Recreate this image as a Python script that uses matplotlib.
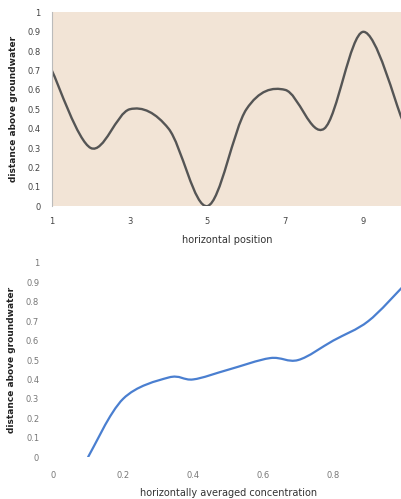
import numpy as np
import matplotlib
matplotlib.use("Agg")
import matplotlib.pyplot as plt
from matplotlib.path import Path
from matplotlib.patches import PathPatch

# top chart data
pos = [1, 2, 3, 4, 5, 6, 7, 8, 9, 10]
dist_top = [0.7, 0.3, 0.5, 0.4, 0.0, 0.5, 0.6, 0.4, 0.9, 0.45]

# bottom chart data
conc = [0.1, 0.2, 0.33, 0.4, 0.5, 0.62, 0.7, 0.8, 0.9, 1.0]
dist_bot = [0.0, 0.3, 0.41, 0.4, 0.45, 0.51, 0.5, 0.6, 0.7, 0.88]

top_xticks = [1, 3, 5, 7, 9]
bot_xticks = [0, 0.2, 0.4, 0.6, 0.8]
yticks = [0, 0.1, 0.2, 0.3, 0.4, 0.5, 0.6, 0.7, 0.8, 0.9, 1]


def smooth_path(x, y):
    # excel-style smoothed line: cubic bezier through the points
    p = np.column_stack([x, y]).astype(float)
    verts = [p[0]]
    codes = [Path.MOVETO]
    n = len(p)
    for i in range(n - 1):
        p0 = p[i - 1] if i > 0 else p[i]
        p3 = p[i + 2] if i + 2 < n else p[i + 1]
        c1 = p[i] + (p[i + 1] - p0) / 6
        c2 = p[i + 1] - (p3 - p[i]) / 6
        verts += [c1, c2, p[i + 1]]
        codes += [Path.CURVE4] * 3
    return Path(verts, codes)


fig = plt.figure(figsize=(4.02, 4.99), dpi=100)

# top chart
ax1 = fig.add_axes([0.129, 0.587, 0.871, 0.388])
ax1.set_facecolor('#f2e4d6')
ax1.add_patch(PathPatch(smooth_path(pos, dist_top), facecolor='none',
                        edgecolor='#555555', lw=1.7, capstyle='round'))
ax1.set_xlim(1, 10)
ax1.set_ylim(0, 1)
ax1.set_xticks(top_xticks)
ax1.set_yticks(yticks)
ax1.set_yticklabels([f'{v:g}' for v in yticks])
for s in ['top', 'right', 'bottom']:
    ax1.spines[s].set_visible(False)
ax1.spines['left'].set_color('#bbbbbb')
ax1.tick_params(length=0, labelsize=6, labelcolor='#444444', pad=8)
ax1.set_xlabel('horizontal position', fontsize=7, color='#333333', labelpad=6)
ax1.set_ylabel('distance above groundwater', fontsize=6.5, fontweight='bold',
               color='#222222', labelpad=7)

# bottom chart
ax2 = fig.add_axes([0.132, 0.084, 0.871, 0.389])
ax2.add_patch(PathPatch(smooth_path(conc, dist_bot), facecolor='none',
                        edgecolor='#4a7fd0', lw=1.6, capstyle='round'))
ax2.set_xlim(0, 1)
ax2.set_ylim(0, 1)
ax2.set_xticks(bot_xticks)
ax2.set_xticklabels([f'{v:g}' for v in bot_xticks])
ax2.set_yticks(yticks)
ax2.set_yticklabels([f'{v:g}' for v in yticks])
for s in ax2.spines.values():
    s.set_visible(False)
ax2.tick_params(length=0, labelsize=6, labelcolor='#777777', pad=10)
ax2.set_xlabel('horizontally averaged concentration', fontsize=7, color='#333333',
               labelpad=6)
ax2.set_ylabel('distance above groundwater', fontsize=6.5, fontweight='bold',
               color='#222222', labelpad=7)

fig.savefig('out.png', dpi=100)
